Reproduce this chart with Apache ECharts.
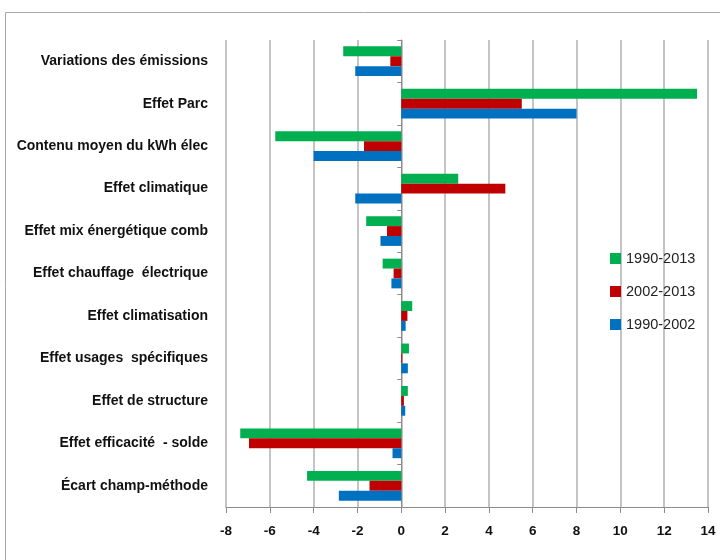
<!DOCTYPE html>
<html>
<head>
<meta charset="utf-8">
<script src="https://cdn.jsdelivr.net/npm/echarts@6/dist/echarts.min.js"></script>
<style>
  html, body { margin: 0; padding: 0; background: #fff; }
  #chart { width: 720px; height: 560px; }
</style>
</head>
<body>
<div id="chart"></div>
<script>
// Décomposition des variations d'émissions (par effet)
const categories = [
  'Variations des émissions',
  'Effet Parc',
  'Contenu moyen du kWh élec',
  'Effet climatique',
  'Effet mix énergétique comb',
  'Effet chauffage  électrique',
  'Effet climatisation',
  'Effet usages  spécifiques',
  'Effet de structure',
  'Effet efficacité  - solde',
  'Écart champ-méthode'
];
const seriesNames = ['1990-2013', '2002-2013', '1990-2002'];
const s1990_2013 = [-2.65, 13.5, -5.75, 2.6, -1.6, -0.85, 0.5, 0.35, 0.3, -7.35, -4.3];
const s2002_2013 = [-0.5, 5.5, -1.7, 4.75, -0.65, -0.35, 0.28, 0.05, 0.12, -6.95, -1.45];
const s1990_2002 = [-2.1, 8.0, -4.0, -2.1, -0.95, -0.45, 0.2, 0.3, 0.18, -0.4, -2.85];
const colors = ['#00B050', '#C00000', '#0070C0'];
const xMin = -8, xMax = 14, xStep = 2;

const chart = echarts.init(document.getElementById('chart'), null, { renderer: 'canvas' });

const seriesData = [s1990_2013, s2002_2013, s1990_2002];

chart.setOption({
  animation: false,
  textStyle: { fontFamily: 'Liberation Sans' },
  graphic: [{
    type: 'rect',
    shape: { x: 5.5, y: 12.5, width: 740, height: 580 },
    style: { fill: 'none', stroke: '#a8a8a8', lineWidth: 1 },
    silent: true
  }],
  grid: { left: 226, right: 12, top: 40, bottom: 53 },
  legend: {
    orient: 'vertical',
    left: 605,
    top: 246,
    itemGap: 18,
    itemWidth: 11,
    itemHeight: 11,
    icon: 'rect',
    textStyle: { fontSize: 14.5, color: '#222', fontFamily: 'Liberation Sans' },
    data: seriesNames
  },
  xAxis: {
    type: 'value',
    min: xMin, max: xMax, interval: xStep,
    axisLine: { show: true, onZero: false, lineStyle: { color: '#8c8c8c', width: 1 } },
    axisTick: { show: true, length: 6, lineStyle: { color: '#8c8c8c' } },
    axisLabel: { fontSize: 13.5, fontWeight: 'bold', color: '#111', margin: 17 },
    splitLine: { show: true, lineStyle: { color: '#b0b0b0', width: 1.5 } }
  },
  yAxis: [{
    type: 'category',
    data: categories,
    inverse: true,
    position: 'left',
    axisLine: { show: false, onZero: false },
    axisTick: { show: false },
    axisLabel: { fontSize: 14, fontWeight: 'bold', color: '#111', margin: 18 }
  }, {
    type: 'category',
    data: categories,
    inverse: true,
    position: 'left',
    axisLine: { show: true, onZero: true, lineStyle: { color: '#8c8c8c', width: 1 } },
    axisTick: { show: true, length: 4, lineStyle: { color: '#8c8c8c' } },
    axisLabel: { show: false }
  }],
  series: seriesNames.map((name, i) => ({
    name,
    type: 'bar',
    yAxisIndex: 0,
    data: seriesData[i],
    barGap: '0%',
    barCategoryGap: '30%',
    itemStyle: { color: colors[i] }
  }))
});
</script>
</body>
</html>
